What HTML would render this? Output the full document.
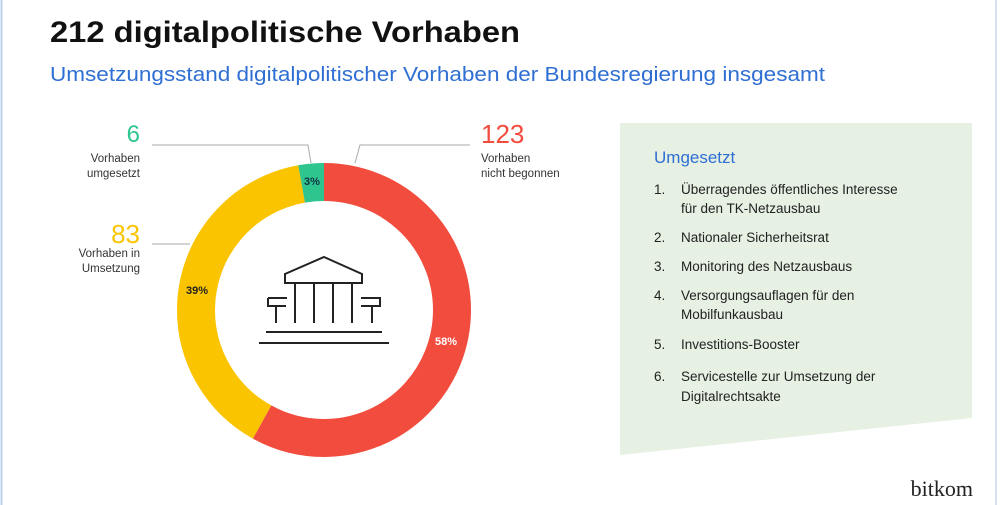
<!DOCTYPE html>
<html><head><meta charset="utf-8"><style>
html,body{margin:0;padding:0;background:#fff;}
svg{display:block;font-family:"Liberation Sans",sans-serif;}
</style></head><body>
<svg width="1000" height="505" viewBox="0 0 1000 505">
<rect width="1000" height="505" fill="#fff"/>
<line x1="1.5" y1="0" x2="1.5" y2="505" stroke="#bcd0ea" stroke-width="2"/>
<line x1="996" y1="0" x2="996" y2="505" stroke="#d6e2ee" stroke-width="2"/>
<text x="50" y="42" font-size="30" font-weight="bold" fill="#111" textLength="470" lengthAdjust="spacingAndGlyphs">212 digitalpolitische Vorhaben</text>
<text x="50" y="81" font-size="20" fill="#2f6fd3" textLength="775" lengthAdjust="spacingAndGlyphs">Umsetzungsstand digitalpolitischer Vorhaben der Bundesregierung insgesamt</text>

<polygon points="620,123 972,123 972,418 620,455" fill="#e6f0e3"/>
<text x="654" y="163" font-size="17" fill="#2f6fd3">Umgesetzt</text>
<g font-size="13.5" fill="#222">
<text x="654" y="194">1.</text><text x="681" y="194">Überragendes öffentliches Interesse</text>
<text x="681" y="213">für den TK-Netzausbau</text>
<text x="654" y="242">2.</text><text x="681" y="242">Nationaler Sicherheitsrat</text>
<text x="654" y="271">3.</text><text x="681" y="271">Monitoring des Netzausbaus</text>
<text x="654" y="300">4.</text><text x="681" y="300">Versorgungsauflagen für den</text>
<text x="681" y="319">Mobilfunkausbau</text>
<text x="654" y="349">5.</text><text x="681" y="349">Investitions-Booster</text>
<text x="654" y="381">6.</text><text x="681" y="381">Servicestelle zur Umsetzung der</text>
<text x="681" y="401">Digitalrechtsakte</text>
</g>
<text x="973" y="496" font-size="22" fill="#222" text-anchor="end" font-family="Liberation Serif,serif">bitkom</text>

<g transform="translate(324,310) rotate(-90)" fill="none" stroke-width="38">
<circle r="128" stroke="#f14c3d" stroke-dasharray="466.6 804.2"/>
<circle r="128" stroke="#fbc400" stroke-dasharray="314.9 804.2" stroke-dashoffset="-466.6"/>
<circle r="128" stroke="#2ec58e" stroke-dasharray="22.8 804.2" stroke-dashoffset="-781.4"/>
</g>
<g font-size="11" font-weight="bold">
<text x="312" y="185" fill="#134" text-anchor="middle">3%</text>
<text x="197" y="294" fill="#222" text-anchor="middle">39%</text>
<text x="446" y="345" fill="#fff" text-anchor="middle">58%</text>
</g>
<g stroke="#aaa" stroke-width="1" fill="none">
<polyline points="152,145 308,145 311,163"/>
<polyline points="470,145 360,145 355,163"/>
<polyline points="152,244 190,244"/>
</g>
<text x="140" y="142" font-size="24" fill="#2ec58e" text-anchor="end">6</text>
<text x="140" y="243" font-size="26" fill="#fbc400" text-anchor="end">83</text>
<text x="481" y="143" font-size="26" fill="#f14c3d">123</text>
<g font-size="11.5" fill="#333">
<text x="140" y="162" text-anchor="end">Vorhaben</text>
<text x="140" y="177" text-anchor="end">umgesetzt</text>
<text x="140" y="257" text-anchor="end">Vorhaben in</text>
<text x="140" y="272" text-anchor="end">Umsetzung</text>
<text x="481" y="162">Vorhaben</text>
<text x="481" y="177">nicht begonnen</text>
</g>
<g stroke="#222" stroke-width="2" fill="none">
<path d="M324,257 L362,274 V283 H285 V274 Z" stroke-linejoin="miter"/>
<path d="M295,283V323 M314,283V323 M333,283V323 M352,283V323"/>
<path d="M268,298H287 M268,298V306H286 M276,306V323"/>
<path d="M361,298H380V306H361 M372,306V323"/>
<path d="M266,332H382 M259,343H389"/>
</g>
</svg>
</body></html>
